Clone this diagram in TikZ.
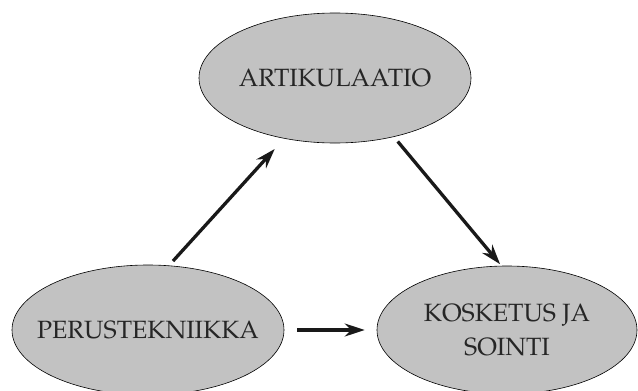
\documentclass[tikz,border=0pt]{standalone}
\usepackage[T1]{fontenc}
\usepackage{mathpazo}
\usepackage{tikz}
\usetikzlibrary{positioning, shapes.geometric, arrows.meta}
\usepackage{xcolor}
\definecolor{ovalgray}{RGB}{194,194,194}

\begin{document}
\begin{tikzpicture}[x=1pt, y=-1pt]

\tikzstyle{oval} = [
    ellipse,
    draw,
    fill=ovalgray,
    line width=0.6pt,
    minimum width=272pt,
    minimum height=130pt
];
\tikzstyle{ovaltext} = [
    align=center,
    text=black!85,
    font=\fontsize{25}{34}\selectfont
];
\tikzstyle{arrow} = [
    -{Stealth[length=20pt, width=13pt]},
    line width=3.3pt,
    draw=black!90
];

\useasboundingbox (0,0) rectangle (638,391);

\node[oval, label={[ovaltext]center:ARTIKULAATIO}] (artik) at (335,78) {};
\node[oval, label={[ovaltext]center:PERUSTEKNIIKKA}] (perus) at (148,330) {};
\node[oval, minimum width=260pt, minimum height=128pt,
      label={[ovaltext]center:KOSKETUS JA\\SOINTI}] (kosk) at (507,330) {};

\draw[arrow, shorten <=6pt, shorten >=14pt] (perus.72) -- (artik.230);
\draw[arrow, shorten <=6pt, shorten >=2pt] (artik.315) -- (kosk.95);
\draw[arrow, shorten <=13pt, shorten >=12pt] (perus.east) -- (kosk.west);

\end{tikzpicture}
\end{document}
